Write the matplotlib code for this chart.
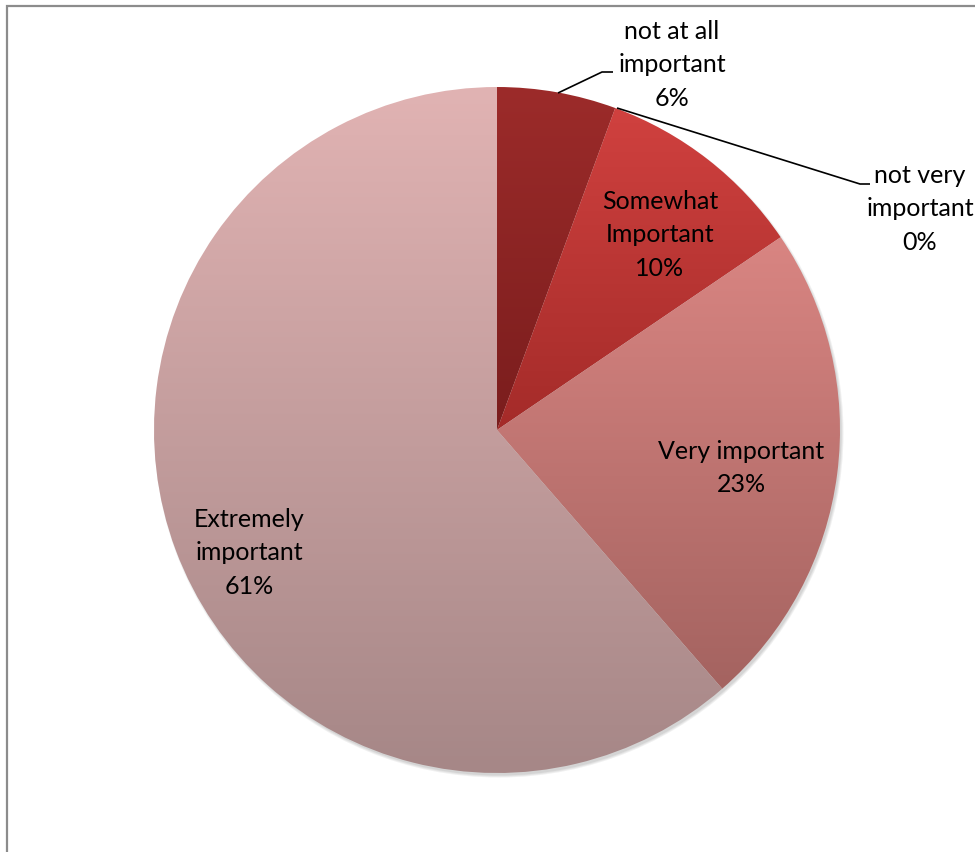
import numpy as np
import matplotlib
matplotlib.use("Agg")
import matplotlib.pyplot as plt
from matplotlib.patches import Circle
from matplotlib.colors import to_rgb

# survey answers, clockwise from 12 o'clock
categories = ["not at all\nimportant", "not very\nimportant", "Somewhat\nImportant",
              "Very important", "Extremely\nimportant"]
shares = [5.6, 0.0, 9.9, 23.1, 61.4]

# top / bottom shade of every slice (vertical gradient)
top_colors = ["#9c2b2a", "#c03a38", "#d0413f", "#d98582", "#e1b3b3"]
bottom_colors = ["#7a1d1d", "#a52b2b", "#a42b29", "#a46360", "#a68787"]

# label anchors (pixel coords, y from top) and leader lines
label_pos = [(672, 65), (920, 209), (660, 235), (741, 468), (249, 553)]
leaders = {0: [(613, 72), (602, 72), (558, 93)],
           1: [(870, 184), (860, 184), (617, 108)]}

W, H = 975, 852
cx, cy, R = 497, 430, 343

plt.rcParams['font.family'] = ['Lato', 'DejaVu Sans']

fig = plt.figure(figsize=(W / 100, H / 100), dpi=100)
ax = fig.add_axes([0, 0, 1, 1])
ax.set_xlim(0, W)
ax.set_ylim(0, H)
ax.set_aspect('equal')
ax.axis('off')

# soft drop shadow under the pie
for k, a in enumerate([0.10, 0.10, 0.12]):
    ax.add_patch(Circle((cx + 2, H - cy - 3), R + 1.5 - k, color='#707070', alpha=a,
                        lw=0, zorder=0))

wedges, _ = ax.pie(shares, radius=R, center=(cx, H - cy), startangle=90,
                   counterclock=False, wedgeprops=dict(linewidth=0))

for w, c_top, c_bot in zip(wedges, top_colors, bottom_colors):
    w.set_facecolor('none')
    w.set_zorder(1)
    if abs(w.theta2 - w.theta1) < 1e-6:
        continue
    th = np.radians(np.linspace(w.theta1, w.theta2, 200))
    xs = np.concatenate([[cx], cx + R * np.cos(th)])
    ys = np.concatenate([[H - cy], H - cy + R * np.sin(th)])
    x0, x1, y0, y1 = xs.min(), xs.max(), ys.min(), ys.max()
    t = np.linspace(0, 1, 256)[:, None]
    grad = (1 - t) * np.array(to_rgb(c_top)) + t * np.array(to_rgb(c_bot))
    im = ax.imshow(grad[:, None, :], extent=[x0, x1, y0, y1], origin='upper',
                   aspect='auto', interpolation='bilinear', zorder=1)
    im.set_clip_path(w)

ax.set_xlim(0, W)
ax.set_ylim(0, H)

for name, val, (lx, ly) in zip(categories, shares, label_pos):
    ax.text(lx, H - ly, f"{name}\n{val:.0f}%", ha='center', va='center',
            fontsize=18, color='black', linespacing=1.55, zorder=3)

for pts in leaders.values():
    px, py = zip(*pts)
    ax.plot(px, [H - p for p in py], color='black', lw=1.2, zorder=3,
            solid_capstyle='butt')

# chart frame (only left and top edges visible)
ax.plot([7, 7, W], [0, H - 6, H - 6], color='#8c8c8c', lw=1.6, zorder=4,
        solid_joinstyle='miter')

fig.savefig("out.png", dpi=100)
